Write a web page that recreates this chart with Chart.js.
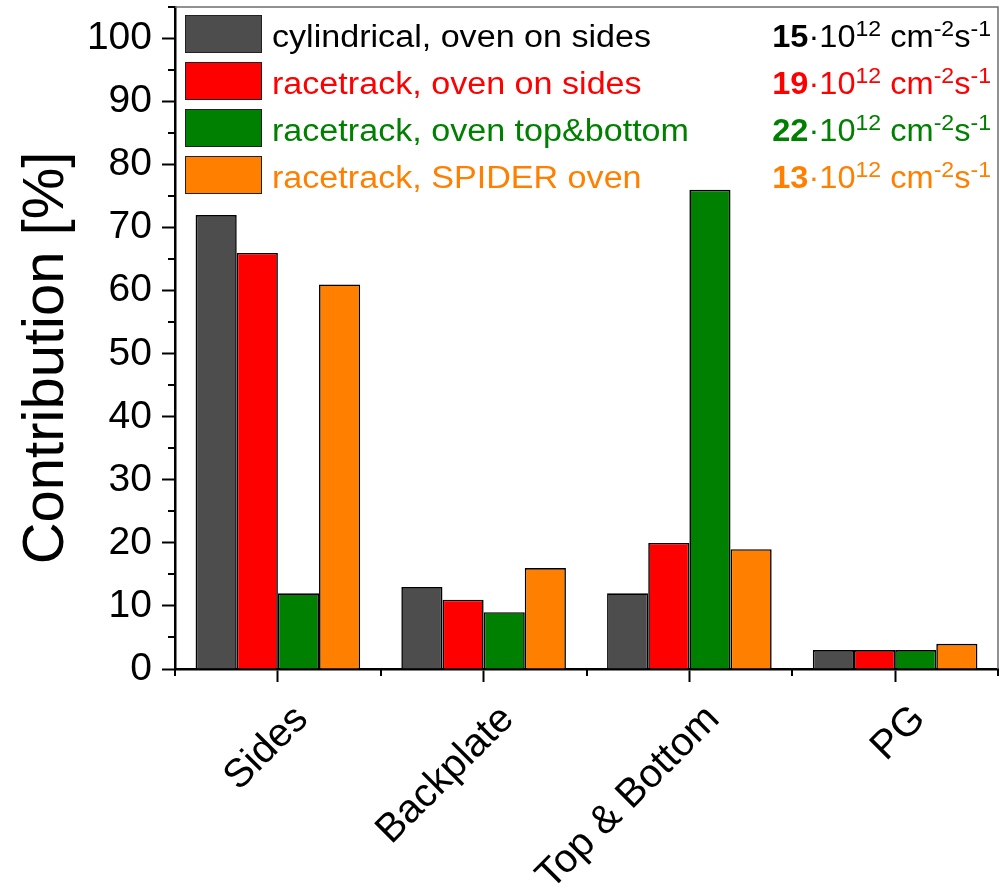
<!DOCTYPE html>
<html>
<head>
<meta charset="utf-8">
<script src="https://cdn.jsdelivr.net/npm/chart.js@4"></script>
<style>
  html, body { margin: 0; padding: 0; background: #fff; }
  #wrap { width: 1008px; height: 893px; }
</style>
</head>
<body>
<div id="wrap"><canvas id="c" width="1008" height="893"></canvas></div>
<script>
// Contribution of each source surface, per oven configuration
const categories = ['Sides', 'Backplate', 'Top & Bottom', 'PG'];
const seriesLabels = [
  'cylindrical, oven on sides',
  'racetrack, oven on sides',
  'racetrack, oven top&bottom',
  'racetrack, SPIDER oven'
];
const cylindricalSides = [72, 13, 12, 3];
const racetrackSides = [66, 11, 20, 3];
const racetrackTopBottom = [12, 9, 76, 3];
const racetrackSpider = [61, 16, 19, 4];
// total flux for each configuration, in units of 10^12 cm^-2 s^-1
const fluxValues = ['15', '19', '22', '13'];
const yTicks = [0, 10, 20, 30, 40, 50, 60, 70, 80, 90, 100];

const barColors = ['#4d4d4d', '#ff0000', '#008000', '#ff8000'];
const textColors = ['#000000', '#ff0000', '#008000', '#ff8000'];
const FONT = "'Liberation Sans', Arial, sans-serif";
const SX = 1.1;       // horizontal text stretch used for the legend labels
const SX_FLUX = 1.05; // and for the flux column

const seriesValues = [cylindricalSides, racetrackSides, racetrackTopBottom, racetrackSpider];

const datasets = seriesValues.map((vals, i) => ({
  label: seriesLabels[i],
  data: vals,
  backgroundColor: barColors[i],
  borderColor: '#000',
  borderWidth: 1.6,
  categoryPercentage: 0.8,
  barPercentage: 1.0
}));

function noPad(scale) {
  scale.paddingTop = 0;
  scale.paddingBottom = 0;
  scale.paddingLeft = 0;
  scale.paddingRight = 0;
}

// minor ticks, plot frame, legend and y title
const decor = {
  id: 'decor',
  afterDraw(chart) {
    const ctx = chart.ctx;
    const a = chart.chartArea;
    const xs = chart.scales.x, ys = chart.scales.y;
    ctx.save();
    // frame on top and right
    ctx.strokeStyle = '#6e6e6e';
    ctx.lineWidth = 1.5;
    ctx.beginPath();
    ctx.moveTo(a.left, a.top);
    ctx.lineTo(a.right, a.top);
    ctx.lineTo(a.right, a.bottom);
    ctx.stroke();
    // minor ticks
    ctx.strokeStyle = '#000';
    ctx.lineWidth = 2;
    ctx.beginPath();
    for (let v = 5; v <= 105; v += 10) {
      const y = Math.round(ys.getPixelForValue(v));
      ctx.moveTo(a.left - 7, y);
      ctx.lineTo(a.left, y);
    }
    for (let k = 0; k <= categories.length; k++) {
      const x = Math.round(xs.getPixelForValue(k - 0.5));
      ctx.moveTo(x, a.bottom);
      ctx.lineTo(x, a.bottom + 7);
    }
    ctx.stroke();

    // y axis title
    ctx.fillStyle = '#000';
    ctx.font = '58px ' + FONT;
    ctx.textAlign = 'center';
    ctx.textBaseline = 'middle';
    ctx.translate(47, 358);
    ctx.rotate(-Math.PI / 2);
    ctx.fillText('Contribution [%]', 0, 0);
    ctx.restore();

    // legend
    const swX = 185, swW = 77, swH = 38, top0 = 15, pitch = 47;
    const textX = 272, rightX = 991;
    for (let i = 0; i < seriesLabels.length; i++) {
      const top = top0 + i * pitch;
      const base = top + 32;
      ctx.save();
      ctx.fillStyle = barColors[i];
      ctx.fillRect(swX, top, swW, swH);
      ctx.strokeStyle = '#222';
      ctx.lineWidth = 1;
      ctx.strokeRect(swX + 0.5, top + 0.5, swW - 1, swH - 1);

      ctx.fillStyle = textColors[i];
      ctx.textBaseline = 'alphabetic';
      ctx.textAlign = 'left';
      ctx.font = '31px ' + FONT;
      ctx.translate(textX, base);
      ctx.scale(SX, 1);
      ctx.fillText(seriesLabels[i], 0, 0);
      ctx.restore();

      // flux: N·10^12 cm^-2 s^-1
      const parts = [
        { t: fluxValues[i], f: 'bold 31px ' + FONT, dy: 0 },
        { t: '\u00b7', f: '31px ' + FONT, dy: 0 },
        { t: '10', f: '31px ' + FONT, dy: 0 },
        { t: '12', f: '22px ' + FONT, dy: -11 },
        { t: ' cm', f: '31px ' + FONT, dy: 0 },
        { t: '-2', f: '22px ' + FONT, dy: -11 },
        { t: 's', f: '31px ' + FONT, dy: 0 },
        { t: '-1', f: '22px ' + FONT, dy: -11 }
      ];
      ctx.save();
      let w = 0;
      parts.forEach(p => { ctx.font = p.f; p.w = ctx.measureText(p.t).width; w += p.w; });
      ctx.translate(rightX - w * SX_FLUX, base);
      ctx.scale(SX_FLUX, 1);
      ctx.fillStyle = textColors[i];
      ctx.textAlign = 'left';
      ctx.textBaseline = 'alphabetic';
      let x = 0;
      parts.forEach(p => { ctx.font = p.f; ctx.fillText(p.t, x, p.dy); x += p.w; });
      ctx.restore();
    }
  }
};

new Chart(document.getElementById('c'), {
  type: 'bar',
  data: { labels: categories, datasets },
  options: {
    responsive: false,
    animation: false,
    devicePixelRatio: 1,
    layout: { padding: { left: 0, right: 10, top: 7, bottom: 0 } },
    plugins: { legend: { display: false }, tooltip: { enabled: false } },
    scales: {
      x: {
        offset: true,
        grid: {
          offset: false,
          drawOnChartArea: false,
          drawTicks: true,
          tickLength: 13,
          tickWidth: 2,
          tickColor: '#000'
        },
        border: { display: true, color: '#000', width: 2.5 },
        ticks: {
          color: '#000',
          font: { family: FONT, size: 40 },
          maxRotation: 45,
          minRotation: 45,
          autoSkip: false,
          padding: 14,
          labelOffset: 24
        },
        afterFit(scale) { scale.height = 224; noPad(scale); }
      },
      y: {
        min: 0,
        max: 105,
        grid: {
          drawOnChartArea: false,
          drawTicks: true,
          tickLength: 13,
          tickWidth: 2,
          tickColor: '#000'
        },
        border: { display: true, color: '#000', width: 2.5 },
        ticks: {
          color: '#000',
          font: { family: FONT, size: 39 },
          padding: 10,
          stepSize: 10
        },
        afterBuildTicks(scale) {
          scale.ticks = yTicks.map(v => ({ value: v }));
        },
        afterFit(scale) { scale.width = 175; noPad(scale); }
      }
    }
  },
  plugins: [decor]
});
</script>
</body>
</html>
